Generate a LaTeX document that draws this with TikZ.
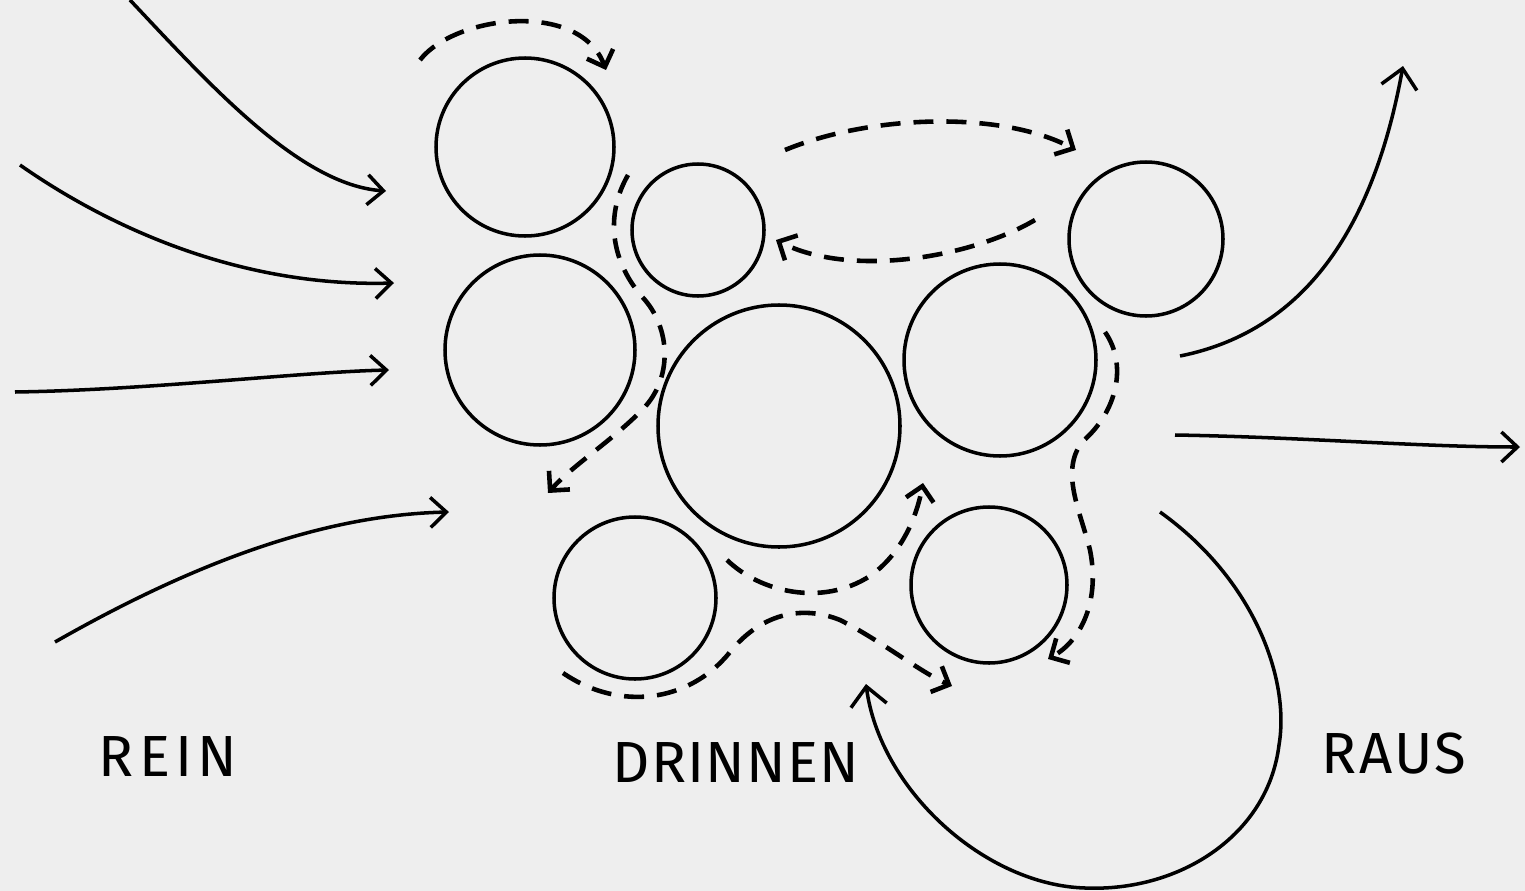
\documentclass[tikz,border=0pt]{standalone}
\usepackage{fontspec}
\setmainfont{Fira Sans}[LetterSpace=6]
\usetikzlibrary{arrows.meta}
\definecolor{bg}{HTML}{EEEEEE}
\tikzset{
  blob/.style={circle, draw, line width=1pt, inner sep=0pt},
  flow/.style={line width=1pt, -{Straight Barb[length=1.6mm,width=3mm,line width=1pt]}},
  bigflow/.style={line width=1pt, -{Straight Barb[length=1.9mm,width=3.6mm,line width=1pt]}},
  move/.style={line width=1.3pt, dash pattern=on 2mm off 1.3mm, -{Straight Barb[length=1.4mm,width=2.8mm,line width=1.3pt]}},
  word/.style={font=\fontsize{16.5}{20}\selectfont, inner sep=0pt}
}
\begin{document}
\begin{tikzpicture}[x=0.1mm,y=-0.1mm]
\path[fill=bg] (0,0) rectangle (1525,891);
\useasboundingbox (0,0) rectangle (1525,891);

% circles
\node[blob, minimum size=17.8mm] (c1) at (525,147) {};
\node[blob, minimum size=13.2mm] (c2) at (698,230) {};
\node[blob, minimum size=19mm]   (c3) at (540,350) {};
\node[blob, minimum size=24.2mm] (c4) at (779,426) {};
\node[blob, minimum size=15.4mm] (c5) at (1146,239) {};
\node[blob, minimum size=19.2mm] (c6) at (1000,360) {};
\node[blob, minimum size=16.2mm] (c7) at (635,598) {};
\node[blob, minimum size=15.6mm] (c8) at (989,585) {};

% labels
\node[word] (rein) at (168,757) {\addfontfeature{LetterSpace=9}REIN};
\node[word] (drinnen) at (736,763) {\addfontfeature{LetterSpace=2}DRINNEN};
\node[word] (raus) at (1394,754) {\addfontfeature{LetterSpace=4}RAUS};

% endpoints of incoming arrows
\coordinate (a1s) at (130,0);    \coordinate (a1e) at (386,191);
\coordinate (a2s) at (20,165);   \coordinate (a2e) at (394,283);
\coordinate (a3s) at (15,392);   \coordinate (a3e) at (389,370);
\coordinate (a4s) at (55,642);   \coordinate (a4e) at (449,512);
% outgoing
\coordinate (a5s) at (1180,356); \coordinate (a5e) at (1403,66);
\coordinate (a6s) at (1175,435); \coordinate (a6e) at (1520,447);
\coordinate (a7s) at (1160,512); \coordinate (a7e) at (866,684);

\draw[flow] (a1s) .. controls (210,85) and (300,185) .. (a1e);
\draw[flow] (a2s) .. controls (120,235) and (250,287) .. (a2e);
\draw[flow] (a3s) .. controls (150,390) and (300,372) .. (a3e);
\draw[flow] (a4s) .. controls (190,565) and (320,515) .. (a4e);

\draw[bigflow] (a5s) .. controls (1310,330) and (1375,220) .. (a5e);
\draw[flow] (a6s) .. controls (1300,437) and (1420,447) .. (a6e);
\draw[bigflow] (a7s) .. controls (1255,580) and (1290,680) .. (1279,745)
   .. controls (1268,835) and (1180,892) .. (1085,888)
   .. controls (985,885) and (880,790) .. (a7e);

% dashed movements
\coordinate (d1s) at (420,60);   \coordinate (d1e) at (606,70);
\coordinate (d2s) at (785,150);  \coordinate (d2e) at (1076,150);
\coordinate (d3s) at (1035,220); \coordinate (d3e) at (776,240);
\coordinate (d4s) at (628,175);  \coordinate (d4e) at (548,493);
\coordinate (d5s) at (1105,332); \coordinate (d5e) at (1048,659);
\coordinate (d6s) at (727,560);  \coordinate (d6e) at (923,483);
\coordinate (d7s) at (563,673);  \coordinate (d7e) at (952,686);

\draw[move] (d1s) .. controls (455,15) and (580,0) .. (d1e);
\draw[move] (d2s) .. controls (870,115) and (1000,110) .. (d2e);
\draw[move] (d3s) .. controls (970,258) and (850,278) .. (d3e);
\draw[move] (d4s) .. controls (605,215) and (610,262) .. (645,300)
   .. controls (672,332) and (672,382) .. (640,412)
   .. controls (610,442) and (572,466) .. (d4e);
\draw[move] (d5s) .. controls (1128,365) and (1117,412) .. (1082,442)
   .. controls (1060,472) and (1080,510) .. (1090,550)
   .. controls (1100,600) and (1082,640) .. (d5e);
\draw[move] (d6s) .. controls (760,592) and (822,607) .. (870,576)
   .. controls (900,555) and (916,520) .. (d6e);
\draw[move] (d7s) .. controls (620,712) and (690,702) .. (730,652)
   .. controls (760,615) and (800,604) .. (840,620)
   .. controls (880,640) and (920,672) .. (d7e);
\end{tikzpicture}
\end{document}
